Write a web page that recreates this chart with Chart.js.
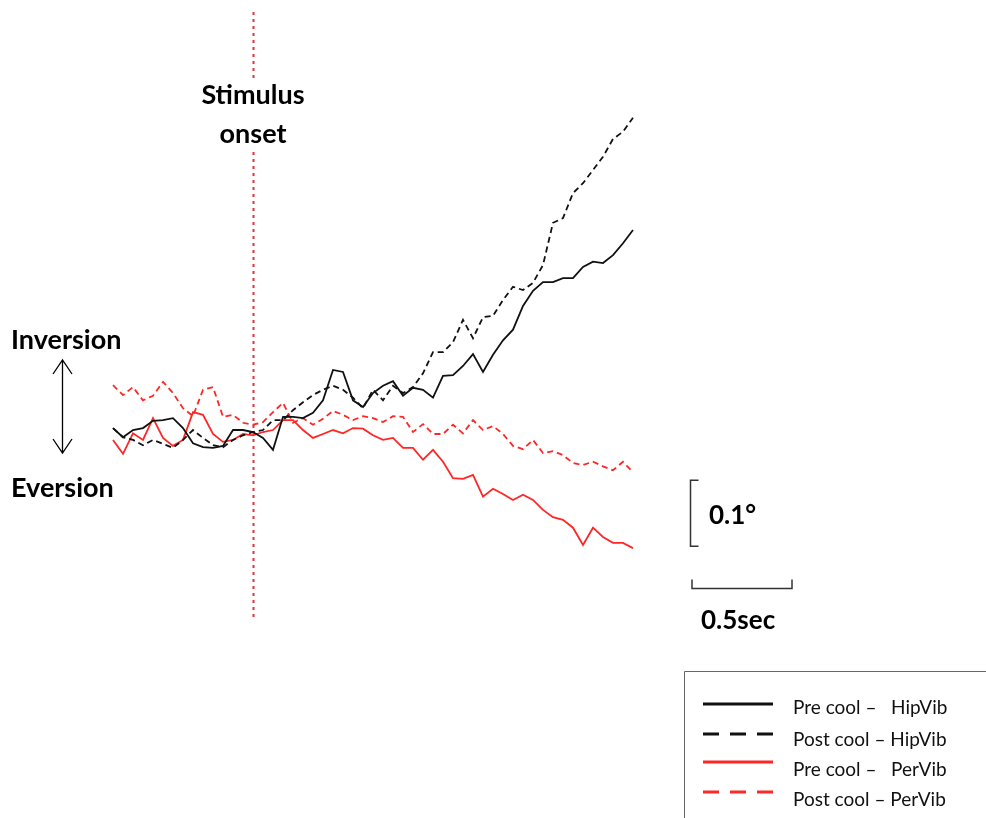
<!DOCTYPE html>
<html>
<head>
<meta charset="utf-8">
<script src="https://cdn.jsdelivr.net/npm/chart.js@4.4.1/dist/chart.umd.min.js"></script>
<style>
  html, body { margin: 0; padding: 0; background: #fff; }
  #wrap { width: 986px; height: 818px; }
</style>
</head>
<body>
<div id="wrap"><canvas id="ankleChart"></canvas></div>
<script>
// time from stimulus onset (s)
const timeSec = [-0.70, -0.65, -0.60, -0.55, -0.50, -0.45, -0.40, -0.35, -0.30, -0.25, -0.20, -0.15, -0.10, -0.05,
    0.00, 0.05, 0.10, 0.15, 0.20, 0.25, 0.30, 0.35, 0.40, 0.45, 0.50, 0.55, 0.60, 0.65, 0.70, 0.75, 0.80, 0.85,
    0.90, 0.95, 1.00, 1.05, 1.10, 1.15, 1.20, 1.25, 1.30, 1.35, 1.40, 1.45, 1.50, 1.55, 1.60, 1.65, 1.70, 1.75,
    1.80, 1.85, 1.90];

// ankle angle (deg), + = inversion
const preCoolHip = [0.006, -0.008, 0.003, 0.006, 0.017, 0.018, 0.021, 0.006, -0.017, -0.023, -0.024, -0.021, 0.003, 0.003,
    0.000, -0.009, -0.027, 0.023, 0.023, 0.021, 0.029, 0.048, 0.094, 0.091, 0.048, 0.038, 0.059, 0.070, 0.077, 0.055,
    0.067, 0.064, 0.052, 0.085, 0.086, 0.100, 0.118, 0.091, 0.117, 0.139, 0.155, 0.191, 0.214, 0.227, 0.227, 0.233,
    0.233, 0.250, 0.258, 0.256, 0.268, 0.286, 0.306];
const postCoolHip = [0.006, -0.008, -0.012, -0.020, -0.012, -0.018, -0.024, -0.012, 0.003, -0.009, -0.020, -0.023, -0.012, -0.005,
    0.000, 0.003, 0.018, 0.018, 0.033, 0.045, 0.056, 0.064, 0.070, 0.064, 0.052, 0.036, 0.064, 0.048, 0.070, 0.059,
    0.068, 0.089, 0.121, 0.121, 0.136, 0.170, 0.142, 0.174, 0.176, 0.200, 0.220, 0.215, 0.226, 0.253, 0.317, 0.324,
    0.362, 0.377, 0.397, 0.417, 0.444, 0.455, 0.476];
const preCoolPer = [-0.012, -0.033, -0.002, -0.012, 0.021, -0.009, -0.021, -0.012, 0.030, 0.026, -0.003, -0.015, -0.012, -0.003,
    -0.005, 0.000, 0.003, 0.018, 0.018, 0.003, -0.009, -0.003, 0.003, -0.002, 0.006, 0.005, -0.005, -0.012, -0.009, -0.024,
    -0.024, -0.042, -0.027, -0.045, -0.070, -0.071, -0.065, -0.098, -0.086, -0.094, -0.103, -0.095, -0.103, -0.118, -0.129, -0.133,
    -0.145, -0.171, -0.145, -0.159, -0.168, -0.168, -0.176];
const postCoolPer = [0.071, 0.056, 0.068, 0.048, 0.055, 0.076, 0.059, 0.036, 0.024, 0.064, 0.068, 0.023, 0.026, 0.014,
    0.011, 0.015, 0.030, 0.044, 0.014, 0.021, 0.011, 0.020, 0.032, 0.026, 0.018, 0.024, 0.021, 0.015, 0.024, 0.023,
    0.000, 0.012, -0.003, -0.003, 0.011, -0.002, 0.018, 0.003, 0.009, -0.003, -0.021, -0.026, -0.012, -0.032, -0.029, -0.035,
    -0.047, -0.050, -0.045, -0.052, -0.058, -0.045, -0.061];

const seriesLabels = ["Pre cool \u2013   HipVib", "Post cool \u2013 HipVib", "Pre cool \u2013   PerVib", "Post cool \u2013 PerVib"];

const BLACK = "#111111";
const RED = "#ff2626";
const ONSET_RED = "#e5323c";
const FONT = "Lato, 'Open Sans', sans-serif";

// scale bars: 0.5 s and 0.1 deg
const barTime = [2.195, 2.695];
const barAngle = [-0.073, -0.173];

function trace(label, data, color, dashed) {
    return {
        label: label,
        data: data,
        borderColor: color,
        borderWidth: 1.8,
        borderDash: dashed ? [6, 4] : [],
        pointRadius: 0,
        tension: 0,
        fill: false
    };
}

// ================= ANNOTATIONS =================
const overlay = {
    id: "overlay",
    beforeDatasetsDraw(chart) {
        const ctx = chart.ctx;
        const x = chart.scales.x;
        const x0 = Math.round(x.getPixelForValue(0)) + 0.5;
        ctx.save();
        ctx.strokeStyle = ONSET_RED;
        ctx.lineWidth = 2;
        ctx.setLineDash([3, 4]);
        ctx.beginPath();
        ctx.moveTo(x0, 12);
        ctx.lineTo(x0, 618);
        ctx.stroke();
        // text background over the onset line
        ctx.fillStyle = "#fff";
        ctx.fillRect(x0 - 58, 78, 116, 74);
        ctx.restore();
    },
    afterDraw(chart) {
        const ctx = chart.ctx;
        const x = chart.scales.x;
        const y = chart.scales.y;
        const x0 = x.getPixelForValue(0);
        ctx.save();
        ctx.fillStyle = "#000";
        ctx.textBaseline = "middle";
        ctx.font = "bold 27px " + FONT;
        ctx.textAlign = "center";
        ctx.fillText("Stimulus", x0, 95);
        ctx.fillText("onset", x0, 134);
        ctx.textAlign = "left";
        ctx.fillText("Inversion", 11, 340);
        ctx.fillText("Eversion", 11, 488);

        // double arrow
        ctx.strokeStyle = "#000";
        ctx.lineWidth = 1.3;
        ctx.beginPath();
        ctx.moveTo(62.5, 360);
        ctx.lineTo(62.5, 453);
        ctx.moveTo(53, 374);
        ctx.lineTo(62.5, 360);
        ctx.lineTo(72, 374);
        ctx.moveTo(53, 439);
        ctx.lineTo(62.5, 453);
        ctx.lineTo(72, 439);
        ctx.stroke();

        // angle scale bar
        const vx = Math.round(x.getPixelForValue(barTime[0])) - 1.5;
        const vy1 = y.getPixelForValue(barAngle[0]);
        const vy2 = y.getPixelForValue(barAngle[1]);
        ctx.strokeStyle = "#333";
        ctx.lineWidth = 1.5;
        ctx.beginPath();
        ctx.moveTo(vx + 8, vy1);
        ctx.lineTo(vx, vy1);
        ctx.lineTo(vx, vy2);
        ctx.lineTo(vx + 8, vy2);
        ctx.stroke();
        ctx.font = "bold 26px " + FONT;
        ctx.fillText("0.1\u00b0", 709, 516);

        // time scale bar
        const hx1 = x.getPixelForValue(barTime[0]);
        const hx2 = x.getPixelForValue(barTime[1]);
        const hy = 588.5;
        ctx.beginPath();
        ctx.moveTo(hx1, hy - 9);
        ctx.lineTo(hx1, hy);
        ctx.lineTo(hx2, hy);
        ctx.lineTo(hx2, hy - 9);
        ctx.stroke();
        ctx.fillText("0.5sec", 701, 621);

        // legend box
        ctx.strokeStyle = "#666";
        ctx.lineWidth = 1;
        ctx.beginPath();
        ctx.moveTo(684.5, 818);
        ctx.lineTo(684.5, 671.5);
        ctx.lineTo(986, 671.5);
        ctx.stroke();
        const rows = [704, 734, 762, 792];
        const textRows = [708, 740, 770, 800];
        ctx.font = "19px " + FONT;
        chart.data.datasets.forEach((ds, i) => {
            ctx.strokeStyle = ds.borderColor;
            ctx.lineWidth = 3;
            ctx.setLineDash(ds.borderDash.length ? [16, 11] : []);
            ctx.beginPath();
            ctx.moveTo(703, rows[i]);
            ctx.lineTo(773, rows[i]);
            ctx.stroke();
            ctx.setLineDash([]);
            ctx.fillStyle = "#111";
            ctx.fillText(ds.label, 793, textRows[i]);
        });
        ctx.restore();
    }
};

new Chart(document.getElementById("ankleChart"), {
    type: "line",
    data: {
        labels: timeSec,
        datasets: [
            trace(seriesLabels[0], preCoolHip, BLACK, false),
            trace(seriesLabels[1], postCoolHip, BLACK, true),
            trace(seriesLabels[2], preCoolPer, RED, false),
            trace(seriesLabels[3], postCoolPer, RED, true)
        ]
    },
    options: {
        responsive: true,
        maintainAspectRatio: false,
        animation: false,
        layout: { padding: 0 },
        plugins: { legend: { display: false }, tooltip: { enabled: false } },
        scales: {
            x: { type: "linear", min: -1.265, max: 3.665, display: false },
            y: { min: -0.58485, max: 0.65455, display: false }
        }
    },
    plugins: [overlay]
});
</script>
</body>
</html>
